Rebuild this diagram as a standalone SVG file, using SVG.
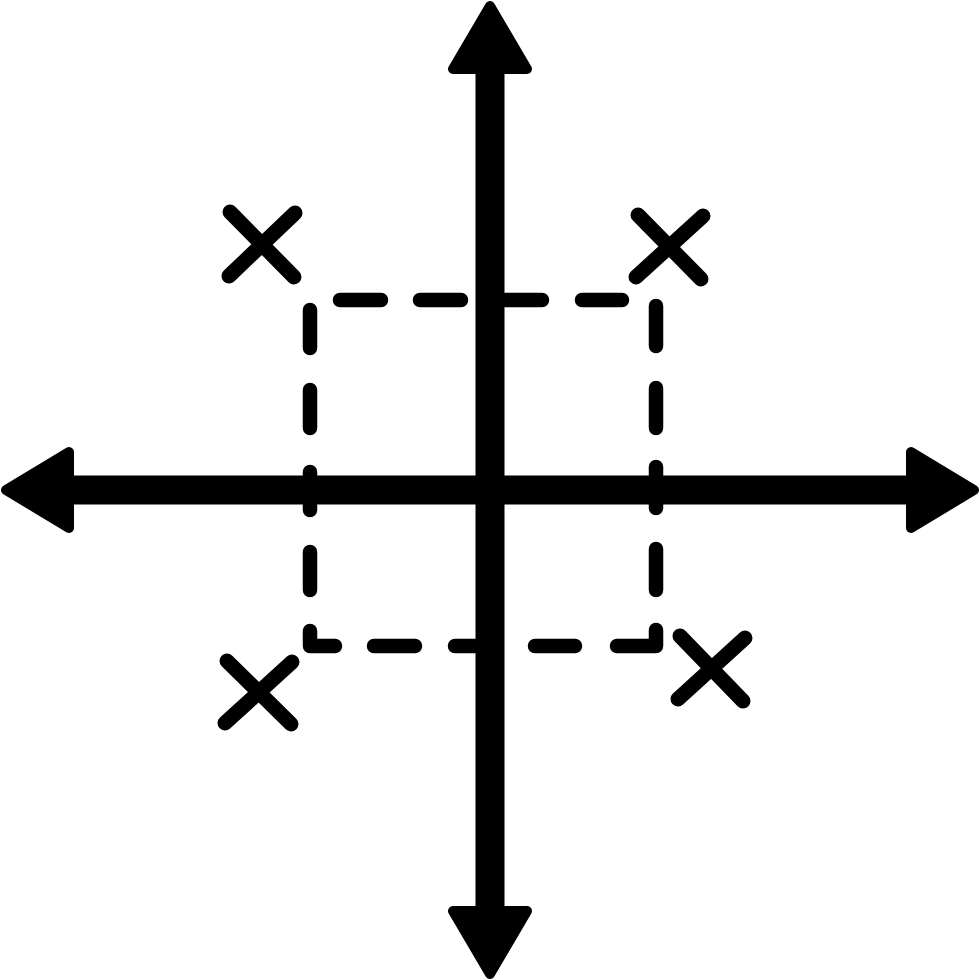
<svg xmlns="http://www.w3.org/2000/svg" width="980" height="980" viewBox="0 0 980 980">
<style>
.axis{stroke:#000;stroke-width:29;fill:none}
.head{fill:#000;stroke:#000;stroke-width:10;stroke-linejoin:round}
.dash{stroke:#000;stroke-width:14.5;fill:none;stroke-linecap:round;stroke-linejoin:round}
.x{stroke:#000;stroke-width:15;fill:none;stroke-linecap:round}
</style>
<rect width="980" height="980" fill="#fff"/>
<g id="dashed-box">
<path class="dash" d="M340,300H381M420,300H461M505,300H542M582,300H622
M310,310V348M310,390V428M310,472V510M310,552V590M310,631V646H335
M374,646H415M455,646H490M535,646H575M617,646H656V630
M656,306V346M656,388V428M656,467V508M656,549V590"/>
</g>
<g id="axes">
<line class="axis" x1="490" y1="60" x2="490" y2="920"/>
<line class="axis" x1="60" y1="490" x2="920" y2="490"/>
<polygon class="head" points="490,6 453,69 527,69"/>
<polygon class="head" points="490,974 453,911 527,911"/>
<polygon class="head" points="6,490 69,452 69,528"/>
<polygon class="head" points="974,490 911,452 911,528"/>
</g>
<g id="marks">
<g id="x-top-left"><path class="x" d="M230,212L294,277M295,213L229,276"/></g>
<g id="x-top-right"><path class="x" d="M638,215L701,279M703,216L636,277"/></g>
<g id="x-bottom-left"><path class="x" d="M227,661L291,724M292,662L225,723"/></g>
<g id="x-bottom-right"><path class="x" d="M680,636L743,701M745,638L678,699"/></g>
</g>
</svg>
